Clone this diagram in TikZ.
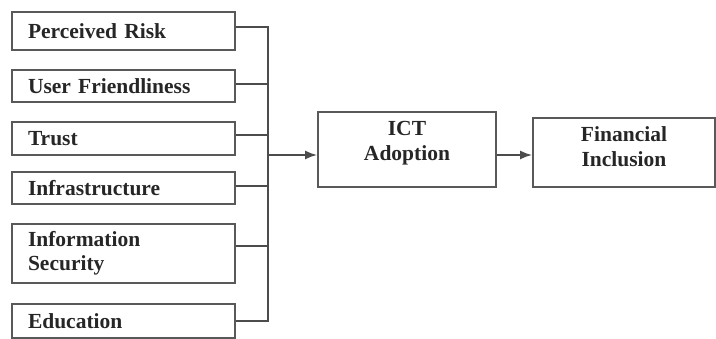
\documentclass[tikz,border=0pt]{standalone}
\usepackage{fontspec}
\setmainfont{Liberation Serif}
\usepackage{xcolor}
\usepackage{tikz}
\usetikzlibrary{arrows.meta}

\tikzset{
    factor/.style={draw=black!65, line width=1.8pt, rectangle, minimum width=223pt, text width=191pt, inner xsep=16pt, align=left, text=black!85, font=\fontsize{21.5}{24}\selectfont\bfseries},
    stage/.style={draw=black!65, line width=1.8pt, rectangle, align=center, text=black!85, font=\fontsize{21.5}{25}\selectfont\bfseries},
    link/.style={draw=black!70, line width=1.8pt},
}

\begin{document}
\begin{tikzpicture}[x=1pt, y=-1pt]
    \useasboundingbox (0,0) rectangle (716,339);

    % Factor boxes
    \node[factor, minimum height=38pt] (risk) at (123.5,31) {Perceived Risk};
    \node[factor, minimum height=32pt] (user) at (123.5,86) {User Friendliness};
    \node[factor, minimum height=33pt] (trust) at (123.5,138.5) {Trust};
    \node[factor, minimum height=32pt] (infra) at (123.5,188) {Infrastructure};
    \node[factor, minimum height=59pt] (infosec) at (123.5,253.5) {Information\\Security};
    \node[factor, minimum height=34pt] (edu) at (123.5,321) {Education};

    % Middle and right boxes
    \node[stage, minimum width=178pt, minimum height=75pt, text depth=17pt] (ict) at (407,149.5) {ICT\\Adoption};
    \node[stage, minimum width=182pt, minimum height=69pt, text depth=11pt] (fin) at (624,152.5) {Financial\\Inclusion};

    % Bus
    \coordinate (b1) at (268,27);
    \coordinate (b2) at (268,84);
    \coordinate (b3) at (268,135);
    \coordinate (b4) at (268,186);
    \coordinate (b5) at (268,246);
    \coordinate (b6) at (268,321);
    \coordinate (bmid) at (268,155);

    \foreach \fac/\pt in {risk/b1, user/b2, trust/b3, infra/b4, infosec/b5, edu/b6}
        \draw[link] (\pt -| \fac.east) -- (\pt);
    \draw[link, line cap=rect] (b1) -- (b6);

    % Arrows
    \draw[link, -{Latex[length=12pt,width=9pt]}] (bmid) -- (bmid -| ict.west);
    \draw[link, -{Latex[length=12pt,width=9pt]}] (bmid -| ict.east) -- (bmid -| fin.west);

\end{tikzpicture}
\end{document}
